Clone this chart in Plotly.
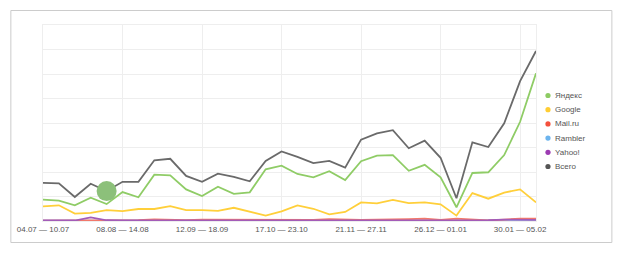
import plotly.graph_objects as go

weeks = ["04.07 — 10.07", "11.07 — 17.07", "18.07 — 24.07", "25.07 — 31.07",
         "01.08 — 07.08", "08.08 — 14.08", "15.08 — 21.08", "22.08 — 28.08",
         "29.08 — 04.09", "05.09 — 11.09", "12.09 — 18.09", "19.09 — 25.09",
         "26.09 — 02.10", "03.10 — 09.10", "10.10 — 16.10", "17.10 — 23.10",
         "24.10 — 30.10", "31.10 — 06.11", "07.11 — 13.11", "14.11 — 20.11",
         "21.11 — 27.11", "28.11 — 04.12", "05.12 — 11.12", "12.12 — 18.12",
         "19.12 — 25.12", "26.12 — 01.01", "02.01 — 08.01", "09.01 — 15.01",
         "16.01 — 22.01", "23.01 — 29.01", "30.01 — 05.02", "06.02 — 12.02"]
x_idx = list(range(len(weeks)))
tick_idx = [0, 5, 10, 15, 20, 25, 30]
tick_text = [weeks[i] for i in tick_idx]

yandex = [0.87, 0.83, 0.64, 0.95, 0.69, 1.18, 0.97, 1.89, 1.86, 1.29, 1.02, 1.40,
          1.11, 1.17, 2.11, 2.26, 1.92, 1.78, 2.03, 1.67, 2.44, 2.67, 2.69, 2.05,
          2.29, 1.78, 0.56, 1.96, 1.99, 2.69, 4.05, 6.03]
google = [0.60, 0.64, 0.30, 0.33, 0.44, 0.40, 0.49, 0.49, 0.61, 0.44, 0.44, 0.41,
          0.54, 0.38, 0.22, 0.39, 0.64, 0.50, 0.27, 0.37, 0.76, 0.72, 0.86, 0.73,
          0.76, 0.68, 0.22, 1.14, 0.91, 1.16, 1.29, 0.76]
mailru = [0.01, 0.01, 0.01, 0.01, 0.01, 0.02, 0.03, 0.07, 0.04, 0.03, 0.06, 0.06,
          0.05, 0.03, 0.05, 0.06, 0.03, 0.05, 0.08, 0.05, 0.05, 0.06, 0.06, 0.08,
          0.10, 0.05, 0.10, 0.05, 0.02, 0.06, 0.10, 0.10]
rambler = [0.01, 0.01, 0.01, 0.03, 0.03, 0.02, 0.01, 0.01, 0.01, 0.01, 0.01, 0.01,
           0.01, 0.01, 0.01, 0.02, 0.01, 0.01, 0.01, 0.01, 0.01, 0.01, 0.01, 0.01,
           0.01, 0.01, 0.01, 0.01, 0.02, 0.01, 0.01, 0.02]
yahoo = [0.02, 0.02, 0.02, 0.15, 0.03, 0.02, 0.02, 0.02, 0.03, 0.03, 0.04, 0.04,
         0.03, 0.03, 0.03, 0.05, 0.03, 0.02, 0.04, 0.03, 0.03, 0.03, 0.04, 0.04,
         0.04, 0.03, 0.05, 0.03, 0.03, 0.06, 0.05, 0.05]
total = [1.56, 1.54, 0.98, 1.52, 1.22, 1.60, 1.60, 2.48, 2.54, 1.84, 1.60, 1.93,
         1.80, 1.62, 2.45, 2.84, 2.62, 2.36, 2.45, 2.18, 3.32, 3.58, 3.71, 2.97,
         3.28, 2.58, 0.93, 3.21, 3.02, 3.99, 5.71, 6.94]

names = ["Яндекс", "Google", "Mail.ru", "Rambler", "Yahoo!", "Всего"]
colors = ["#8dcb63", "#ffcd33", "#f4503c", "#6cb4ee", "#9c3bb2", "#555555"]
series = [yandex, google, mailru, rambler, yahoo, total]
line_colors = ["#8fcc66", "#ffcf3a", "#f2786a", "#8ec4f0", "#a35cb8", "#6a6a6a"]

hover_idx = 4

fig = go.Figure()
draw_order = [3, 2, 4, 1, 0, 5]
for k in draw_order:
    fig.add_trace(go.Scatter(x=x_idx, y=series[k], mode="lines", name=names[k],
                             line=dict(color=line_colors[k], width=1.8),
                             showlegend=False, hoverinfo="skip"))

# hover marker
fig.add_trace(go.Scatter(x=[x_idx[hover_idx]], y=[total[hover_idx]], mode="markers",
                         marker=dict(size=20, color="#8cc07a"), showlegend=False,
                         hoverinfo="skip"))

W, H = 620, 253
ml, mr, mt, mb = 42.7, 83.5, 25, 32

shapes = [dict(type="rect", xref="paper", yref="paper",
               x0=(10.5 - ml) / (W - ml - mr), x1=(612.5 - ml) / (W - ml - mr),
               y0=(H - mb - 242.5) / (H - mt - mb), y1=(H - mb - 10.5) / (H - mt - mb),
               line=dict(color="#cccccc", width=1), fillcolor="rgba(0,0,0,0)",
               layer="below")]
annotations = []
pw = W - ml - mr
ph = H - mt - mb
leg_x_dot = 548.5
leg_y0 = 95.5
leg_dy = 14.2
for i, (nm, c) in enumerate(zip(names, colors)):
    yp = leg_y0 + i * leg_dy
    xp_paper = (leg_x_dot - ml) / pw
    yp_paper = (H - mb - yp) / ph
    shapes.append(dict(type="circle", xref="paper", yref="paper",
                       xsizemode="pixel", ysizemode="pixel",
                       xanchor=xp_paper, yanchor=yp_paper,
                       x0=-2.6, x1=2.6, y0=-2.6, y1=2.6,
                       fillcolor=c, line=dict(width=0)))
    annotations.append(dict(x=(leg_x_dot + 5 - ml) / pw, y=yp_paper, xref="paper", yref="paper",
                            text=nm, showarrow=False, xanchor="left", yanchor="middle",
                            font=dict(size=8, color="#555555", family="Liberation Sans")))

fig.update_layout(
    width=W, height=H,
    margin=dict(l=ml, r=mr, t=mt, b=mb, pad=0),
    paper_bgcolor="white", plot_bgcolor="white",
    showlegend=False,
    shapes=shapes, annotations=annotations,
    xaxis=dict(range=[0, 31], tickmode="array", tickvals=tick_idx, ticktext=tick_text,
               showgrid=True, gridcolor="#eeeeee", gridwidth=1, zeroline=False,
               showline=True, linecolor="#eeeeee", mirror=True, ticks="",
               tickfont=dict(size=8, color="#555555", family="Liberation Sans"),
               fixedrange=True),
    yaxis=dict(range=[0, 8], dtick=1, showticklabels=False, showgrid=True,
               gridcolor="#eeeeee", gridwidth=1, zeroline=False,
               showline=True, linecolor="#eeeeee", mirror=True, ticks="",
               fixedrange=True),
)

fig.write_html("out.html")
